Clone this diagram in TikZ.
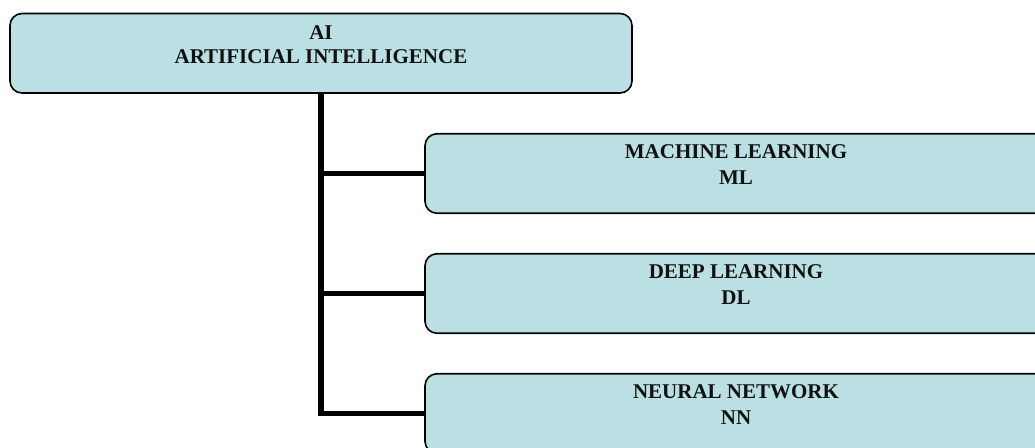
\documentclass[tikz,border=0pt]{standalone}
\usepackage{fontspec}
\setmainfont{Liberation Serif}
\definecolor{boxfill}{RGB}{186,224,227}
\definecolor{txt}{RGB}{17,17,17}
\begin{document}
\begin{tikzpicture}[x=1pt,y=-1pt,
  box/.style={draw=black, line width=1.6pt, fill=boxfill, rounded corners=12pt,
    minimum width=622pt, minimum height=79.5pt, inner sep=0pt, outer sep=0pt},
  lbl/.style={font=\bfseries\fontsize{21}{24}\selectfont, text=txt, inner sep=0pt, anchor=base},
  conn/.style={line width=5.5pt, draw=black, line join=miter}]
\useasboundingbox (0,0) rectangle (1035,447);
\clip (0,0) rectangle (1035,447);
\fill[white] (0,0) rectangle (1035,447);
% boxes
\node[box] (ai) at (321,53.25) {};
\node[box] (ml) at (736,173.5) {};
\node[box] (dl) at (736,293.5) {};
\node[box] (nn) at (736,413.5) {};
% connectors
\draw[conn] (ai.south) |- (nn.west);
\draw[conn] (ai.south |- ml.west) -- (ml.west);
\draw[conn] (ai.south |- dl.west) -- (dl.west);
% labels
\node[lbl] (aiA) at (321,39.5) {AI};
\node[lbl] (aiB) at (321,63) {ARTIFICIAL INTELLIGENCE};
\node[lbl] (mlA) at (736,158.5) {MACHINE LEARNING};
\node[lbl] (mlB) at (736,184.5) {ML};
\node[lbl] (dlA) at (736,278.5) {DEEP LEARNING};
\node[lbl] (dlB) at (736,304.5) {DL};
\node[lbl] (nnA) at (736,398.5) {NEURAL NETWORK};
\node[lbl] (nnB) at (736,424.5) {NN};
\end{tikzpicture}
\end{document}
